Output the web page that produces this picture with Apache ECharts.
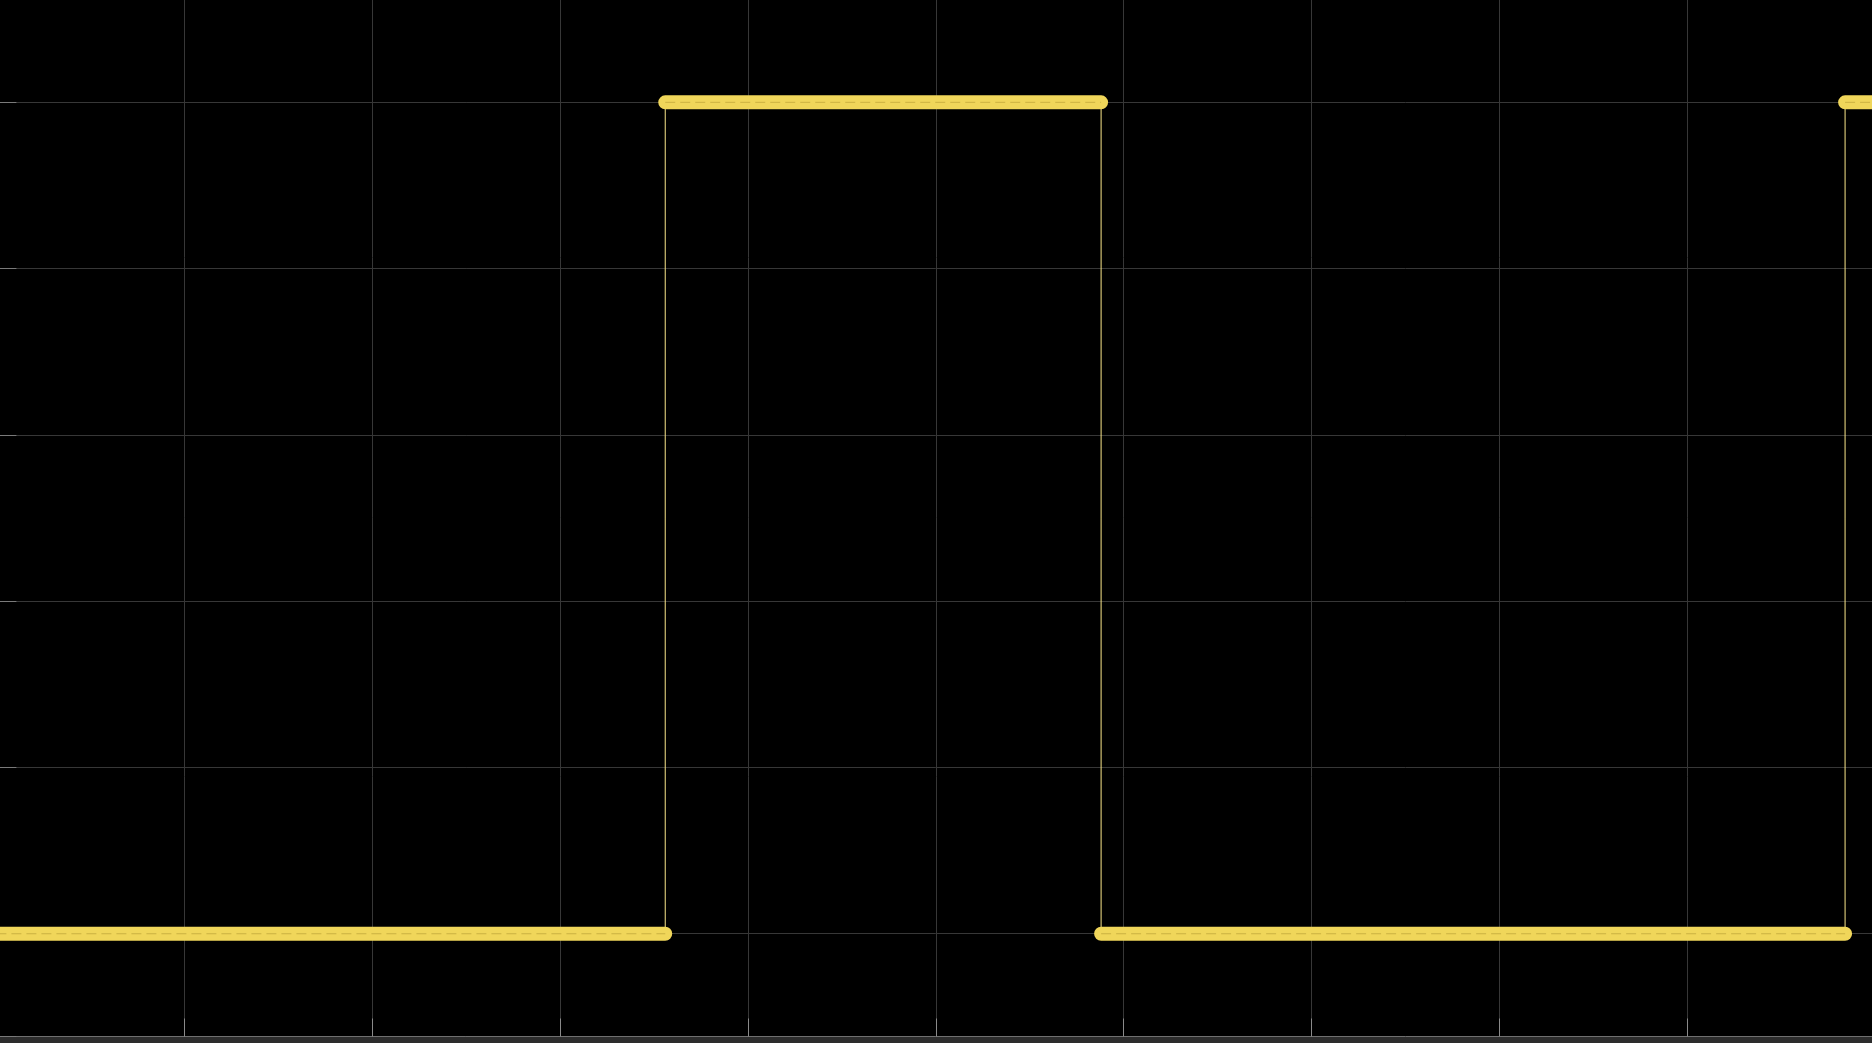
<!DOCTYPE html>
<html>
<head>
<meta charset="utf-8">
<script src="https://cdn.jsdelivr.net/npm/echarts@6/dist/echarts.min.js"></script>
<style>
html,body{margin:0;padding:0;background:#2c2c2c;overflow:hidden;width:1872px;height:1043px;position:relative;}
#chart{position:absolute;left:-4px;top:-3px;width:1880px;height:1040px;background:#000;}
</style>
</head>
<body>
<div id="chart"></div>
<script>
// Segment boundaries along x (axis units 0..100) and the level of each segment
const edgesX = [0, 35.6, 58.8, 98.4, 100];
const levels = [0, 1, 0, 1];
// Axis settings
const xTicks = [0, 10, 20, 30, 40, 50, 60, 70, 80, 90, 100];
const yRange = [-0.1236, 1.1258];

const stepData = [];
const bandData = [];
for (let i = 0; i < levels.length; i++) {
  stepData.push([edgesX[i], levels[i]]);
  stepData.push([edgesX[i + 1], levels[i]]);
  bandData.push([edgesX[i], levels[i]]);
  bandData.push([edgesX[i + 1], levels[i]]);
  if (i < levels.length - 1) bandData.push([edgesX[i + 1], '-']);
}

const chart = echarts.init(document.getElementById('chart'), null, {renderer: 'canvas'});
chart.setOption({
  backgroundColor: '#000000',
  animation: false,
  grid: {left: 0.4, right: 0.85, top: 0.75, bottom: 0.5, containLabel: false},
  xAxis: {
    type: 'value',
    min: xTicks[0],
    max: xTicks[xTicks.length - 1],
    interval: xTicks[1] - xTicks[0],
    axisLine: {show: true, onZero: false, lineStyle: {color: '#707070', width: 1}},
    axisTick: {show: true, inside: true, length: 18, lineStyle: {color: '#8a8a8a'}},
    axisLabel: {show: false},
    splitLine: {show: true, lineStyle: {color: '#373737', width: 1}}
  },
  yAxis: {
    type: 'value',
    min: yRange[0],
    max: yRange[1],
    splitNumber: 6,
    axisLine: {show: false, onZero: false},
    axisTick: {show: true, inside: true, length: 20, lineStyle: {color: '#7a7a7a'}},
    axisLabel: {show: false},
    splitLine: {show: true, lineStyle: {color: '#373737', width: 1}}
  },
  series: [
    {
      name: 'band',
      type: 'line',
      data: bandData,
      showSymbol: false,
      connectNulls: false,
      lineStyle: {color: '#f0d65a', width: 14, cap: 'round'},
      z: 3
    },
    {
      name: 'band-detail',
      type: 'line',
      data: bandData,
      showSymbol: false,
      connectNulls: false,
      lineStyle: {color: 'rgba(150,125,30,0.4)', width: 1, type: [10, 5]},
      z: 4
    },
    {
      name: 'signal',
      type: 'line',
      data: stepData,
      showSymbol: false,
      lineStyle: {color: '#fbe78a', width: 1},
      z: 2
    }
  ]
});
</script>
</body>
</html>
